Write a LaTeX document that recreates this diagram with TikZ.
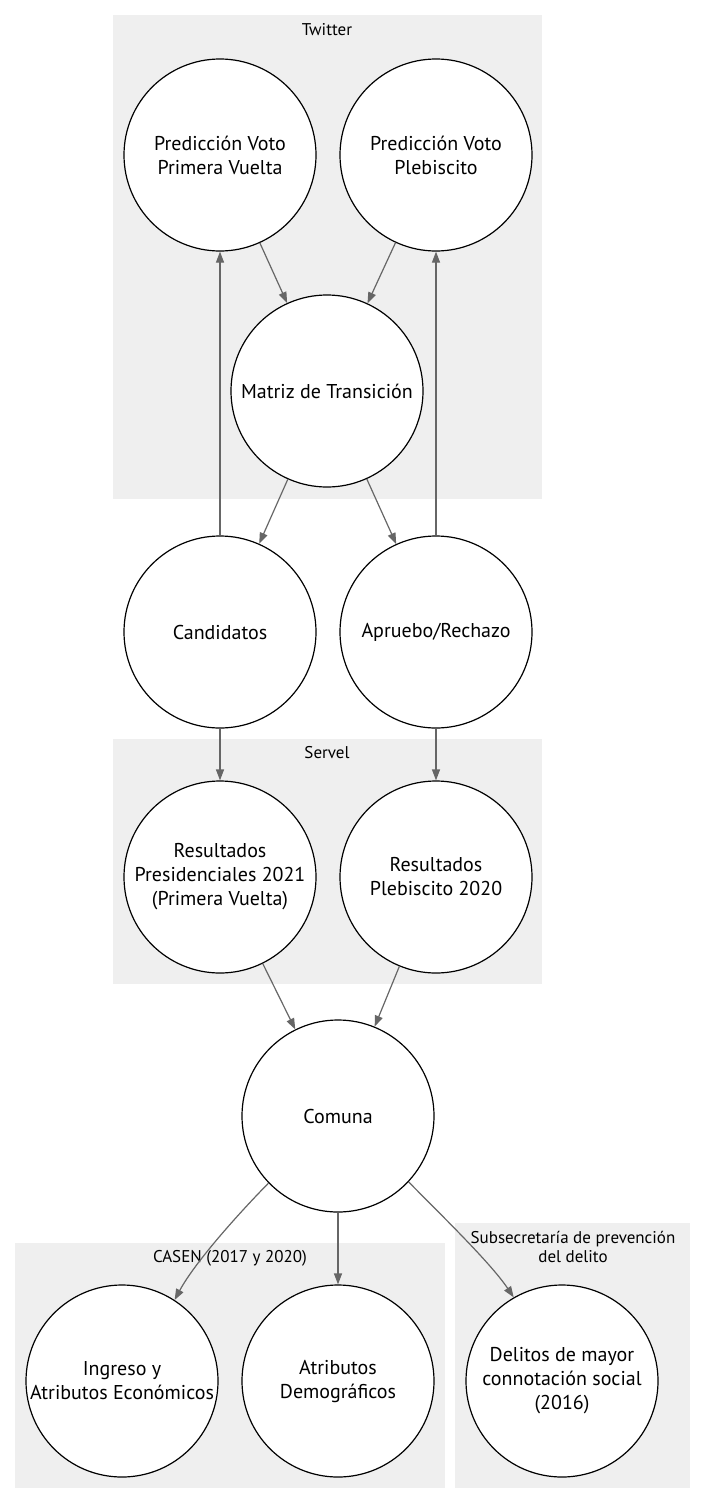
\documentclass[tikz,border=0pt]{standalone}
\usepackage{fontspec}
\setmainfont{PT Sans}
\usetikzlibrary{arrows.meta}
\definecolor{clus}{HTML}{EFEFEF}
\definecolor{edgec}{HTML}{666666}
\begin{document}
\begin{tikzpicture}[x=1pt,y=-1pt,
  nd/.style={circle,draw=black,line width=1.2pt,fill=white,minimum size=192pt,inner sep=0pt,align=center,font=\fontsize{20}{24}\selectfont},
  cl/.style={fill=clus,draw=none},
  cllab/.style={font=\fontsize{17}{19}\selectfont,align=center},
  ed/.style={draw=edgec,line width=1.2pt,-{Triangle[length=11pt,width=8pt]}}]
\useasboundingbox (0,0) rectangle (707,1504);
% clusters
\fill[cl] (113,15) rectangle (542,499);
\fill[cl] (113,739) rectangle (542,984);
\fill[cl] (15,1243) rectangle (445,1488);
\fill[cl] (455,1223) rectangle (690,1488);
\node[cllab] (ltw) at (327,30) {Twitter};
\node[cllab] (lsv) at (327,753) {Servel};
\node[cllab] (lca) at (230,1258) {CASEN (2017 y 2020)};
\node[cllab] (lsu) at (573,1247) {Subsecretaría de prevención\\del delito};
% nodes
\node[nd] (pv1) at (220,155) {Predicción Voto\\Primera Vuelta};
\node[nd] (pvp) at (436,155) {Predicción Voto\\Plebiscito};
\node[nd] (mat) at (327,391) {Matriz de Transición};
\node[nd] (can) at (220,632) {Candidatos};
\node[nd] (apr) at (436,632) {Apruebo/Rechazo};
\node[nd] (rpr) at (220,877) {Resultados\\Presidenciales 2021\\(Primera Vuelta)};
\node[nd] (rpl) at (436,877) {Resultados\\Plebiscito 2020};
\node[nd] (com) at (338,1116) {Comuna};
\node[nd] (ing) at (122,1381) {Ingreso y\\Atributos Económicos};
\node[nd] (atr) at (338,1381) {Atributos\\Demográficos};
\node[nd] (del) at (562,1381) {Delitos de mayor\\connotación social\\(2016)};
% edges
\draw[ed] (can) -- (pv1);
\draw[ed] (apr) -- (pvp);
\draw[ed] (pv1) -- (mat);
\draw[ed] (pvp) -- (mat);
\draw[ed] (mat) -- (can);
\draw[ed] (mat) -- (apr);
\draw[ed] (can) -- (rpr);
\draw[ed] (apr) -- (rpl);
\draw[ed] (rpr) -- (com);
\draw[ed] (rpl) -- (com);
\draw[ed] (com.-136) .. controls (240,1212) and (195,1262) .. (ing.57);
\draw[ed] (com) -- (atr);
\draw[ed] (com.-43) .. controls (438,1212) and (490,1262) .. (del.120);
\end{tikzpicture}
\end{document}
